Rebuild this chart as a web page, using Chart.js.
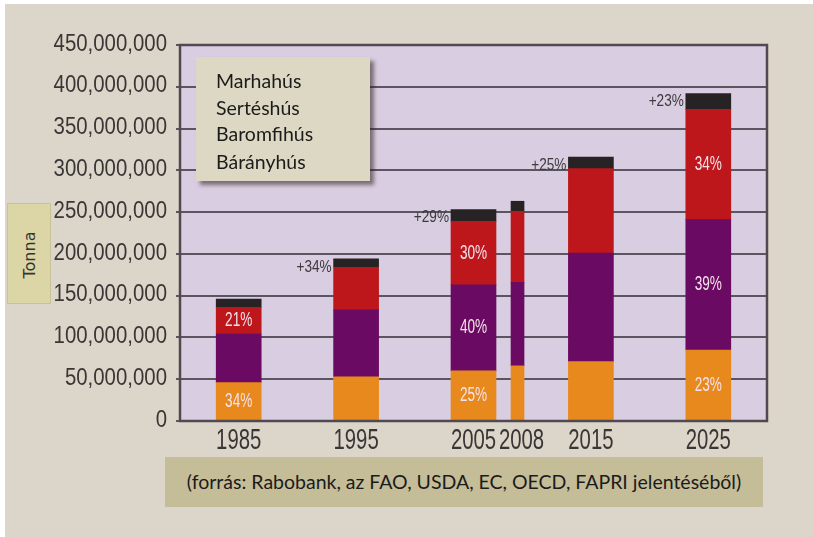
<!DOCTYPE html>
<html lang="hu">
<head>
<meta charset="utf-8">
<title>Globális hústermelés</title>
<script src="https://cdn.jsdelivr.net/npm/chart.js@4.4.1/dist/chart.umd.min.js"></script>
<style>
  html, body { margin: 0; padding: 0; background: #fff; }
  .page { position: absolute; left: 5px; top: 4px; width: 808px; height: 533px; background: #dcd5c9; }
  #chart { position: absolute; left: 0; top: 0; }
  .legend-box {
    position: absolute; left: 196px; top: 57px; width: 174px; height: 124px;
    background: #dcd8c3; box-shadow: 4px 4px 4px rgba(40, 30, 30, .55);
    font-family: Lato, "Open Sans", sans-serif; font-size: 19.5px; color: #1b1b1b;
  }
  .legend-box div { position: absolute; left: 20px; line-height: 20px; }
  .tonna {
    position: absolute; left: 7px; top: 203px; width: 42px; height: 99px;
    background: #dcd6a6; border: 1px solid #c8c29a;
  }
  .tonna span {
    position: absolute; left: 50%; top: 52%;
    transform: translate(-50%, -50%) rotate(-90deg);
    font-family: "DejaVu Sans", sans-serif; font-size: 16px; color: #333;
  }
  .source {
    position: absolute; left: 165px; top: 457px; width: 598px; height: 50px;
    background: #c5bd98; line-height: 50px; text-align: center;
    font-family: Lato, "Open Sans", sans-serif; font-size: 19.5px; color: #1b1b1b;
  }
</style>
</head>
<body>
<div class="page"></div>
<canvas id="chart" width="813" height="537"></canvas>
<div class="legend-box">
  <div style="top:14px">Marhahús</div>
  <div style="top:41px">Sertéshús</div>
  <div style="top:67px">Baromfihús</div>
  <div style="top:95px">Bárányhús</div>
</div>
<div class="tonna"><span>Tonna</span></div>
<div class="source">(forrás: Rabobank, az FAO, USDA, EC, OECD, FAPRI jelentéséből)</div>

<script>
// years on the axis; 2008 is squeezed in next to 2005 in the source, so its slot is nudged right
const years = ['1985', '1995', '2005', '2008', '2015', '2025'];
const yearSlot = [1985, 1995, 2005, 2008.75, 2015, 2025];

// tonnes
const beef = [46e6, 53e6, 60e6, 66e6, 71e6, 85e6];       // Marhahús
const pork = [58e6, 80e6, 103e6, 100e6, 130e6, 156e6];   // Sertéshús
const poultry = [32e6, 51e6, 76e6, 85e6, 101e6, 132e6];  // Baromfihús
const lamb = [10e6, 10e6, 14e6, 12e6, 14e6, 19e6];       // Bárányhús

// labels printed inside / beside the bars
const beefShare = ['34%', '', '25%', '', '', '23%'];
const porkShare = ['', '', '40%', '', '', '39%'];
const poultryShare = ['21%', '', '30%', '', '', '34%'];
const growth = ['', '+34%', '+29%', '', '+25%', '+23%'];

const NARROW = 3; // index of the thin 2008 bar

const series = [
    {name: 'Marhahús', values: beef, shares: beefShare, color: '#e8891d'},
    {name: 'Sertéshús', values: pork, shares: porkShare, color: '#6a0a62'},
    {name: 'Baromfihús', values: poultry, shares: poultryShare, color: '#bd171c'},
    {name: 'Bárányhús', values: lamb, shares: growth, color: '#272324', outside: true}
];

function buildSets(narrow) {
    return series.map(s => {
        const idx = years.map((_, i) => i).filter(i => narrow ? i === NARROW : i !== NARROW);
        return {
            label: s.name,
            data: idx.map(i => ({x: yearSlot[i], y: s.values[i]})),
            marks: idx.map(i => s.shares[i]),
            outside: !!s.outside,
            backgroundColor: s.color,
            borderWidth: 0,
            barThickness: narrow ? 13 : 45,
            grouped: false,
            stack: 'meat'
        };
    });
}

// the source uses a very condensed face, so text is squeezed sideways
function squeezed(ctx, txt, x, y, sx, font, color, align) {
    ctx.save();
    ctx.translate(x, y);
    ctx.scale(sx, 1);
    ctx.font = font;
    ctx.fillStyle = color;
    ctx.textAlign = align;
    ctx.textBaseline = 'middle';
    ctx.fillText(txt, 0, 0);
    ctx.restore();
}

const FACE = '"Liberation Sans", Arial, sans-serif';

const plotBack = {
    id: 'plotBack',
    beforeDraw(chart) {
        const {ctx, chartArea: a} = chart;
        ctx.save();
        ctx.fillStyle = '#d9cde1';
        ctx.fillRect(a.left, a.top, a.right - a.left, a.bottom - a.top);
        ctx.restore();
    },
    afterDraw(chart) {
        const {ctx, chartArea: a} = chart;
        ctx.save();
        ctx.strokeStyle = '#4f4a52';
        ctx.lineWidth = 2.5;
        ctx.strokeRect(a.left, a.top, a.right - a.left, a.bottom - a.top);
        ctx.restore();

        const ys = chart.scales.y;
        ys.ticks.forEach(t => {
            squeezed(ctx, t.value.toLocaleString('en-US'), ys.right - 13, ys.getPixelForValue(t.value) - 1,
                0.85, '24px ' + FACE, '#3a3636', 'right');
        });
        const xs = chart.scales.x;
        yearSlot.forEach((v, i) => {
            // the thin 2008 label sits a touch right of its bar, clear of "2005"
            const nudge = i === NARROW ? 4 : 0;
            squeezed(ctx, years[i], xs.getPixelForValue(v) + nudge, xs.top + 20, 0.7, '29px ' + FACE, '#3a3636', 'center');
        });
    }
};

const barText = {
    id: 'barText',
    afterDatasetsDraw(chart) {
        const ctx = chart.ctx;
        chart.data.datasets.forEach((ds, di) => {
            const meta = chart.getDatasetMeta(di);
            meta.data.forEach((bar, i) => {
                const txt = ds.marks[i];
                if (!txt) return;
                if (ds.outside) {
                    squeezed(ctx, txt, bar.x - bar.width / 2 - 2, bar.y + 8, 0.8, '17px ' + FACE, '#3d3a3c', 'right');
                } else {
                    squeezed(ctx, txt, bar.x, (bar.y + bar.base) / 2, 0.68, '20px ' + FACE, '#f5e2ea', 'center');
                }
            });
        });
    }
};

new Chart(document.getElementById('chart'), {
    type: 'bar',
    data: {datasets: [...buildSets(false), ...buildSets(true)]},
    options: {
        responsive: false,
        animation: false,
        events: [],
        layout: {padding: {left: 0, top: 45, right: 46, bottom: 76}},
        plugins: {legend: {display: false}, tooltip: {enabled: false}},
        scales: {
            x: {
                type: 'linear',
                min: 1980,
                max: 2030,
                offset: false,
                stacked: true,
                grid: {display: false},
                border: {display: false},
                afterBuildTicks(scale) {
                    scale.ticks = yearSlot.map(v => ({value: v}));
                },
                afterFit(scale) {
                    scale.height = 40;
                },
                ticks: {display: false}
            },
            y: {
                stacked: true,
                min: 0,
                max: 450e6,
                border: {display: false},
                grid: {color: '#5a5560', lineWidth: 2, tickLength: 4},
                afterFit(scale) {
                    scale.width = 180;
                },
                ticks: {stepSize: 50e6, display: false}
            }
        }
    },
    plugins: [plotBack, barText]
});
</script>
</body>
</html>
